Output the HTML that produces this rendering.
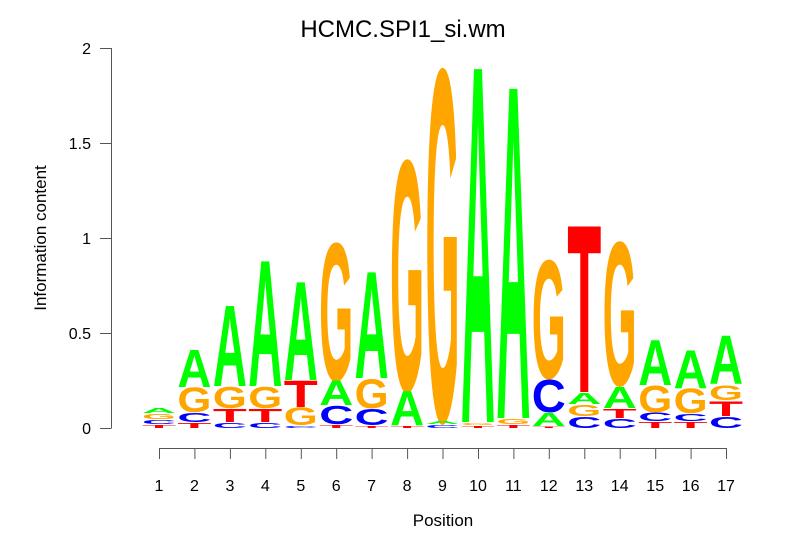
<!DOCTYPE html>
<html><head><meta charset="utf-8"><style>
html,body{margin:0;padding:0;background:#fff;}
svg{display:block;}
.l{font-family:"Liberation Sans",sans-serif;font-weight:bold;font-size:100px;}
.a{fill:#00ff00}.c{fill:#0000ff}.g{fill:#ffa500}.t{fill:#ff0000}
.ax{font-family:"Liberation Sans",sans-serif;font-size:16px;fill:#000;}
</style></head><body>
<svg width="806" height="559" viewBox="0 0 806 559" xmlns="http://www.w3.org/2000/svg">
<rect width="806" height="559" fill="#fff"/>
<text x="403" y="37" text-anchor="middle" font-family="Liberation Sans, sans-serif" font-size="24">HCMC.SPI1_si.wm</text>
<g stroke="#555" stroke-width="1" fill="none">
<line x1="111.5" y1="48" x2="111.5" y2="428"/>
<line x1="100" y1="48.5" x2="111.5" y2="48.5"/>
<line x1="100" y1="143.5" x2="111.5" y2="143.5"/>
<line x1="100" y1="238.5" x2="111.5" y2="238.5"/>
<line x1="100" y1="333.5" x2="111.5" y2="333.5"/>
<line x1="100" y1="428.5" x2="111.5" y2="428.5"/>
<line x1="159" y1="448.5" x2="726" y2="448.5"/>
<path d="M159.5 448v11M194.9 448v11M230.4 448v11M265.8 448v11M301.3 448v11M336.7 448v11M372.1 448v11M407.6 448v11M443 448v11M478.5 448v11M513.9 448v11M549.3 448v11M584.8 448v11M620.2 448v11M655.7 448v11M691.1 448v11M726.5 448v11"/>
</g>
<g class="ax" text-anchor="end">
<text x="91" y="54">2</text><text x="91" y="149">1.5</text><text x="91" y="244">1</text><text x="91" y="339">0.5</text><text x="91" y="434">0</text>
</g>
<g class="ax" text-anchor="middle">
<text x="159" y="491">1</text><text x="194.4" y="491">2</text><text x="229.9" y="491">3</text><text x="265.3" y="491">4</text><text x="300.8" y="491">5</text><text x="336.2" y="491">6</text><text x="371.6" y="491">7</text><text x="407.1" y="491">8</text><text x="442.5" y="491">9</text><text x="478" y="491">10</text><text x="513.4" y="491">11</text><text x="548.8" y="491">12</text><text x="584.3" y="491">13</text><text x="619.7" y="491">14</text><text x="655.2" y="491">15</text><text x="690.6" y="491">16</text><text x="726" y="491">17</text>
<text x="443" y="526" font-size="17">Position</text>
<text transform="translate(46,238) rotate(-90)" font-size="17">Information content</text>
</g>
<g class="l">
<text class="a" x="142" y="0" textLength="34" lengthAdjust="spacingAndGlyphs" transform="translate(0,413) scale(1,0.072)">A</text>
<text class="g" x="142" y="0" textLength="34" lengthAdjust="spacingAndGlyphs" transform="translate(0,419) scale(1,0.072)">G</text>
<text class="c" x="142" y="0" textLength="34" lengthAdjust="spacingAndGlyphs" transform="translate(0,424) scale(1,0.058)">C</text>
<text class="t" x="142" y="0" textLength="34" lengthAdjust="spacingAndGlyphs" transform="translate(0,428) scale(1,0.043)">T</text>

<text class="a" x="177.4" y="0" textLength="34" lengthAdjust="spacingAndGlyphs" transform="translate(0,387) scale(1,0.536)">A</text>
<text class="g" x="177.4" y="0" textLength="34" lengthAdjust="spacingAndGlyphs" transform="translate(0,412) scale(1,0.348)">G</text>
<text class="c" x="177.4" y="0" textLength="34" lengthAdjust="spacingAndGlyphs" transform="translate(0,422) scale(1,0.130)">C</text>
<text class="t" x="177.4" y="0" textLength="34" lengthAdjust="spacingAndGlyphs" transform="translate(0,428) scale(1,0.072)">T</text>

<text class="a" x="212.9" y="0" textLength="34" lengthAdjust="spacingAndGlyphs" transform="translate(0,386) scale(1,1.160)">A</text>
<text class="g" x="212.9" y="0" textLength="34" lengthAdjust="spacingAndGlyphs" transform="translate(0,408) scale(1,0.305)">G</text>
<text class="t" x="212.9" y="0" textLength="34" lengthAdjust="spacingAndGlyphs" transform="translate(0,422) scale(1,0.188)">T</text>
<text class="c" x="212.9" y="0" textLength="34" lengthAdjust="spacingAndGlyphs" transform="translate(0,428) scale(1,0.072)">C</text>

<text class="a" x="248.3" y="0" textLength="34" lengthAdjust="spacingAndGlyphs" transform="translate(0,386) scale(1,1.811)">A</text>
<text class="g" x="248.3" y="0" textLength="34" lengthAdjust="spacingAndGlyphs" transform="translate(0,408) scale(1,0.305)">G</text>
<text class="t" x="248.3" y="0" textLength="34" lengthAdjust="spacingAndGlyphs" transform="translate(0,422) scale(1,0.188)">T</text>
<text class="c" x="248.3" y="0" textLength="34" lengthAdjust="spacingAndGlyphs" transform="translate(0,428) scale(1,0.072)">C</text>

<text class="a" x="283.8" y="0" textLength="34" lengthAdjust="spacingAndGlyphs" transform="translate(0,380) scale(1,1.420)">A</text>
<text class="t" x="283.8" y="0" textLength="34" lengthAdjust="spacingAndGlyphs" transform="translate(0,407) scale(1,0.377)">T</text>
<text class="g" x="283.8" y="0" textLength="34" lengthAdjust="spacingAndGlyphs" transform="translate(0,425) scale(1,0.247)">G</text>
<text class="c" x="283.8" y="0" textLength="34" lengthAdjust="spacingAndGlyphs" transform="translate(0,428) scale(1,0.029)">C</text>

<text class="g" x="319.2" y="0" textLength="34" lengthAdjust="spacingAndGlyphs" transform="translate(0,380) scale(1,1.971)">G</text>
<text class="a" x="319.2" y="0" textLength="34" lengthAdjust="spacingAndGlyphs" transform="translate(0,405) scale(1,0.348)">A</text>
<text class="c" x="319.2" y="0" textLength="34" lengthAdjust="spacingAndGlyphs" transform="translate(0,424) scale(1,0.261)">C</text>
<text class="t" x="319.2" y="0" textLength="34" lengthAdjust="spacingAndGlyphs" transform="translate(0,428) scale(1,0.043)">T</text>

<text class="a" x="354.6" y="0" textLength="34" lengthAdjust="spacingAndGlyphs" transform="translate(0,378) scale(1,1.536)">A</text>
<text class="g" x="354.6" y="0" textLength="34" lengthAdjust="spacingAndGlyphs" transform="translate(0,408) scale(1,0.420)">G</text>
<text class="c" x="354.6" y="0" textLength="34" lengthAdjust="spacingAndGlyphs" transform="translate(0,425) scale(1,0.232)">C</text>
<text class="t" x="354.6" y="0" textLength="34" lengthAdjust="spacingAndGlyphs" transform="translate(0,428) scale(1,0.029)">T</text>

<text class="g" x="390.1" y="0" textLength="34" lengthAdjust="spacingAndGlyphs" transform="translate(0,390) scale(1,3.304)">G</text>
<text class="a" x="390.1" y="0" textLength="34" lengthAdjust="spacingAndGlyphs" transform="translate(0,425) scale(1,0.493)">A</text>
<text class="t" x="390.1" y="0" textLength="34" lengthAdjust="spacingAndGlyphs" transform="translate(0,428) scale(1,0.029)">T</text>

<text class="g" x="425.5" y="0" textLength="34" lengthAdjust="spacingAndGlyphs" transform="translate(0,420) scale(1,5.043)">G</text>
<text class="a" x="425.5" y="0" textLength="34" lengthAdjust="spacingAndGlyphs" transform="translate(0,424) scale(1,0.043)">A</text>
<text class="c" x="425.5" y="0" textLength="34" lengthAdjust="spacingAndGlyphs" transform="translate(0,428) scale(1,0.043)">C</text>

<text class="a" x="461" y="0" textLength="34" lengthAdjust="spacingAndGlyphs" transform="translate(0,422) scale(1,5.130)">A</text>
<text class="g" x="461" y="0" textLength="34" lengthAdjust="spacingAndGlyphs" transform="translate(0,425) scale(1,0.029)">G</text>
<text class="t" x="461" y="0" textLength="34" lengthAdjust="spacingAndGlyphs" transform="translate(0,428) scale(1,0.029)">T</text>

<text class="a" x="496.4" y="0" textLength="34" lengthAdjust="spacingAndGlyphs" transform="translate(0,418) scale(1,4.783)">A</text>
<text class="g" x="496.4" y="0" textLength="34" lengthAdjust="spacingAndGlyphs" transform="translate(0,424) scale(1,0.072)">G</text>
<text class="t" x="496.4" y="0" textLength="34" lengthAdjust="spacingAndGlyphs" transform="translate(0,428) scale(1,0.043)">T</text>

<text class="g" x="531.8" y="0" textLength="34" lengthAdjust="spacingAndGlyphs" transform="translate(0,378) scale(1,1.696)">G</text>
<text class="c" x="531.8" y="0" textLength="34" lengthAdjust="spacingAndGlyphs" transform="translate(0,412) scale(1,0.463)">C</text>
<text class="a" x="531.8" y="0" textLength="34" lengthAdjust="spacingAndGlyphs" transform="translate(0,426) scale(1,0.188)">A</text>
<text class="t" x="531.8" y="0" textLength="34" lengthAdjust="spacingAndGlyphs" transform="translate(0,428) scale(1,0.021)">T</text>

<text class="t" x="567.3" y="0" textLength="34" lengthAdjust="spacingAndGlyphs" transform="translate(0,392) scale(1,2.406)">T</text>
<text class="a" x="567.3" y="0" textLength="34" lengthAdjust="spacingAndGlyphs" transform="translate(0,404) scale(1,0.160)">A</text>
<text class="g" x="567.3" y="0" textLength="34" lengthAdjust="spacingAndGlyphs" transform="translate(0,416) scale(1,0.160)">G</text>
<text class="c" x="567.3" y="0" textLength="34" lengthAdjust="spacingAndGlyphs" transform="translate(0,428) scale(1,0.160)">C</text>

<text class="g" x="602.7" y="0" textLength="34" lengthAdjust="spacingAndGlyphs" transform="translate(0,385) scale(1,2.058)">G</text>
<text class="a" x="602.7" y="0" textLength="34" lengthAdjust="spacingAndGlyphs" transform="translate(0,408) scale(1,0.305)">A</text>
<text class="t" x="602.7" y="0" textLength="34" lengthAdjust="spacingAndGlyphs" transform="translate(0,418) scale(1,0.130)">T</text>
<text class="c" x="602.7" y="0" textLength="34" lengthAdjust="spacingAndGlyphs" transform="translate(0,428) scale(1,0.130)">C</text>

<text class="a" x="638.2" y="0" textLength="34" lengthAdjust="spacingAndGlyphs" transform="translate(0,385) scale(1,0.652)">A</text>
<text class="g" x="638.2" y="0" textLength="34" lengthAdjust="spacingAndGlyphs" transform="translate(0,412) scale(1,0.377)">G</text>
<text class="c" x="638.2" y="0" textLength="34" lengthAdjust="spacingAndGlyphs" transform="translate(0,421) scale(1,0.116)">C</text>
<text class="t" x="638.2" y="0" textLength="34" lengthAdjust="spacingAndGlyphs" transform="translate(0,428) scale(1,0.087)">T</text>

<text class="a" x="673.6" y="0" textLength="34" lengthAdjust="spacingAndGlyphs" transform="translate(0,388) scale(1,0.551)">A</text>
<text class="g" x="673.6" y="0" textLength="34" lengthAdjust="spacingAndGlyphs" transform="translate(0,413) scale(1,0.348)">G</text>
<text class="c" x="673.6" y="0" textLength="34" lengthAdjust="spacingAndGlyphs" transform="translate(0,421) scale(1,0.102)">C</text>
<text class="t" x="673.6" y="0" textLength="34" lengthAdjust="spacingAndGlyphs" transform="translate(0,428) scale(1,0.087)">T</text>

<text class="a" x="709" y="0" textLength="34" lengthAdjust="spacingAndGlyphs" transform="translate(0,384) scale(1,0.696)">A</text>
<text class="g" x="709" y="0" textLength="34" lengthAdjust="spacingAndGlyphs" transform="translate(0,400) scale(1,0.217)">G</text>
<text class="t" x="709" y="0" textLength="34" lengthAdjust="spacingAndGlyphs" transform="translate(0,416) scale(1,0.217)">T</text>
<text class="c" x="709" y="0" textLength="34" lengthAdjust="spacingAndGlyphs" transform="translate(0,428) scale(1,0.160)">C</text>
</g>
</svg>
</body></html>
